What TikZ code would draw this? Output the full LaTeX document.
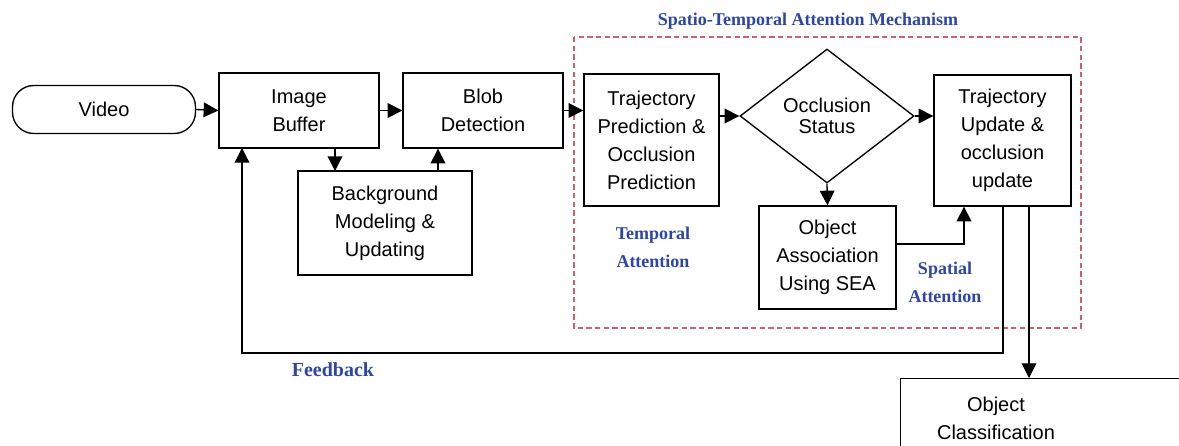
\documentclass[tikz,border=0pt]{standalone}
\usepackage{fontspec}
\setmainfont{Liberation Sans}
\newfontfamily\lblfont{Liberation Serif}
\usetikzlibrary{shapes.geometric,arrows.meta}
\definecolor{lblblue}{RGB}{45,70,165}
\definecolor{dashred}{RGB}{195,100,110}
\tikzset{
  box/.style={draw=black, line width=1pt, fill=white, align=center, inner sep=0pt,
    font=\fontsize{15pt}{21pt}\selectfont},
  arr/.style={draw=black, line width=1pt, -{Triangle[length=11pt,width=11pt]}},
  lbl/.style={text=lblblue, align=center, font=\lblfont\bfseries\fontsize{13.5pt}{21pt}\selectfont},
}
\begin{document}
\begin{tikzpicture}[x=0.75pt,y=-0.75pt]
\useasboundingbox (0,0) rectangle (1179,446);
\clip (0,0) rectangle (1179,446);

% attention mechanism frame
\node[lbl, anchor=south] (title) at (808,34) {Spatio-Temporal Attention Mechanism};
\draw[dashred, dash pattern=on 4pt off 2.5pt, line width=1.3pt] (574,37) rectangle (1081,328);

% processing blocks
\node[box, rounded corners=16pt, minimum width=137.25pt, minimum height=36pt] (video) at (104,109.5) {Video};
\node[box, minimum width=120pt, minimum height=56.25pt] (ib) at (299,110.5) {Image\\Buffer};
\node[box, minimum width=120pt, minimum height=56.25pt] (blob) at (483,110.5) {Blob\\Detection};
\node[box, minimum width=130.5pt, minimum height=78pt] (bg) at (385,223) {Background\\Modeling \&\\Updating};
\node[box, minimum width=101.25pt, minimum height=99pt] (tp) at (651.5,140) {Trajectory\\Prediction \&\\Occlusion\\Prediction};
\node[box, shape=diamond, minimum width=130.5pt, minimum height=100.5pt, shape aspect=1.3] (occ) at (827,116) {\raisebox{-6pt}{\shortstack{Occlusion\\[2pt]Status}}};
\node[box, minimum width=102.75pt, minimum height=98.25pt] (tu) at (1002.5,140.5) {Trajectory\\Update \&\\occlusion\\update};
\node[box, minimum width=102.75pt, minimum height=77.25pt] (oa) at (827.5,257.5) {Object\\Association\\Using SEA};
\node[box, anchor=north west, minimum width=225pt, minimum height=75pt] (cls) at (900,378) {};
\node[box, draw=none, fill=none] (clstext) at (996,418) {Object\\Classification};

% labels
\node[lbl] (ta) at (653,247) {Temporal\\Attention};
\node[lbl] (sa) at (945,282) {Spatial\\Attention};
\node[lbl, font=\lblfont\bfseries\fontsize{15pt}{21pt}\selectfont] (fb) at (333,370) {Feedback};

% connectors
\coordinate (fbcorner) at (1003,353);
\coordinate (sacorner) at (964,244);
\coordinate (clsin) at (1029,378);
\coordinate (bgin) at (335,171);
\coordinate (bgout) at (438,171);
\coordinate (fbin) at (242,148);
\draw[arr] (video.east) -- (ib.west);
\draw[arr] (ib.east) -- (blob.west);
\draw[arr] (blob.east) -- (tp.west |- blob.east);
\draw[arr] (bgin |- ib.south) -- (bgin);
\draw[arr] (bgout) -- (bgout |- blob.south);
\draw[arr] (tp.east |- occ.west) -- (occ.west);
\draw[arr] (occ.east) -- (tu.west |- occ.east);
\draw[arr] (occ.south) -- (oa.north);
\draw[arr] (oa.east |- sacorner) -- (sacorner) -- (sacorner |- tu.south);
\draw[arr] (fbcorner |- tu.south) -- (fbcorner) -- (fbin |- fbcorner) -- (fbin);
\draw[arr, line width=0.8pt] (clsin |- tu.south) -- (clsin);
\end{tikzpicture}
\end{document}
